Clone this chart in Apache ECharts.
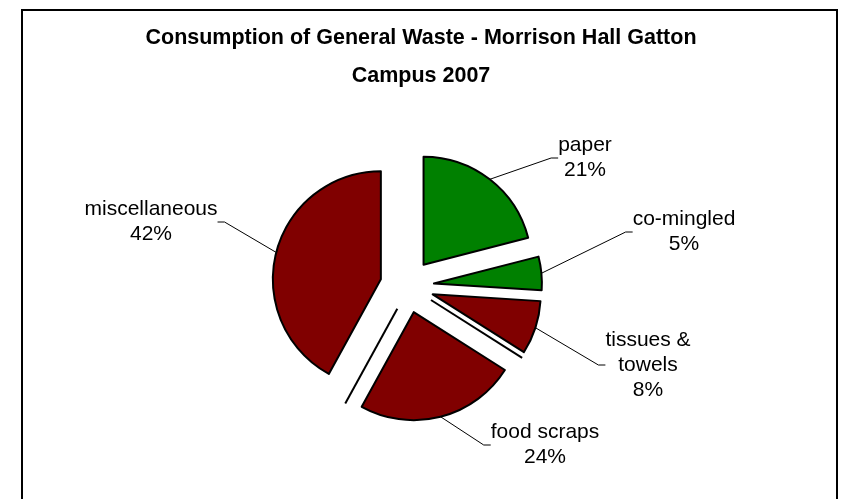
<!DOCTYPE html>
<html>
<head>
<meta charset="utf-8">
<script src="https://cdn.jsdelivr.net/npm/echarts@6/dist/echarts.min.js"></script>
<style>
  html, body { margin: 0; padding: 0; background: #fff; }
  #chart { width: 842px; height: 499px; }
</style>
</head>
<body>
<div id="chart"></div>
<script>
// waste categories, clockwise from 12 o'clock
var categories = ['paper', 'co-mingled', 'tissues &\ntowels', 'food scraps', 'miscellaneous'];
// share of general waste (%)
var shares = [21, 5, 8, 24, 42];

// layout
var pieCenter = [407, 286];
var pieRadius = 108;
var explode = 27;
// where each label sits (centre of the text block, px)
var labelSpots = [[585, 158], [684, 232], [648, 365], [545, 445], [151, 222]];
var sliceColors = ['#008000', '#008000', '#800000', '#800000', '#800000'];
// thin side edges left behind two of the pulled-out slices (slice, sideways shift, slide)
var ghostEdges = [[3, 16, 5], [2, 5.7, 1.6]];

var chart = echarts.init(document.getElementById('chart'));

var total = shares.reduce(function (a, b) { return a + b; }, 0);
var cum = 0;
var sliceCenters = [];
var sliceEnds = [];

// one series per slice so every slice can be pulled out along its own mid angle
var series = categories.map(function (name, i) {
    var mid = (cum + shares[i] / 2) / total * 2 * Math.PI;
    cum += shares[i];
    var cx = pieCenter[0] + explode * Math.sin(mid);
    var cy = pieCenter[1] - explode * Math.cos(mid);
    sliceCenters.push([cx, cy]);
    sliceEnds.push(cum / total * 2 * Math.PI);

    return {
        type: 'pie',
        center: [cx, cy],
        radius: pieRadius,
        startAngle: 90,
        clockwise: true,
        avoidLabelOverlap: false,
        percentPrecision: 0,
        emphasis: { disabled: true },
        label: {
            position: 'outside',
            formatter: '{b}\n{d}%',
            fontFamily: 'Liberation Sans, Arial, sans-serif',
            fontSize: 21,
            lineHeight: 25,
            color: '#000'
        },
        labelLine: {
            length: 15,
            length2: 7,
            lineStyle: { color: '#000', width: 1 }
        },
        labelLayout: function (params) {
            var spot = labelSpots[params.dataIndex];
            return { x: spot[0], y: spot[1], align: 'center', verticalAlign: 'middle' };
        },
        data: categories.map(function (n, j) {
            var on = j === i;
            return {
                name: n,
                value: shares[j],
                itemStyle: on
                    ? { color: sliceColors[j], borderColor: '#000', borderWidth: 2 }
                    : { color: 'rgba(0,0,0,0)', borderWidth: 0 },
                label: { show: on },
                labelLine: { show: on }
            };
        })
    };
});

var graphics = [{
    type: 'rect',
    shape: { x: 22, y: 10, width: 815, height: 520 },
    style: { fill: 'none', stroke: '#000', lineWidth: 2 },
    silent: true
}];

ghostEdges.forEach(function (g) {
    var c = sliceCenters[g[0]];
    var a = sliceEnds[g[0]];
    var dir = [Math.sin(a), -Math.cos(a)];
    var side = [Math.cos(a), Math.sin(a)];
    var x1 = c[0] + side[0] * g[1] + dir[0] * g[2];
    var y1 = c[1] + side[1] * g[1] + dir[1] * g[2];
    graphics.push({
        type: 'line',
        shape: { x1: x1, y1: y1, x2: x1 + dir[0] * pieRadius, y2: y1 + dir[1] * pieRadius },
        style: { stroke: '#000', lineWidth: 2 },
        silent: true
    });
});

var option = {
    animation: false,
    title: {
        text: 'Consumption of General Waste - Morrison Hall Gatton\nCampus 2007',
        left: 'center',
        top: 14,
        textStyle: {
            fontFamily: 'Liberation Sans, Arial, sans-serif',
            fontSize: 21.5,
            fontWeight: 'bold',
            color: '#000',
            lineHeight: 38
        }
    },
    graphic: graphics,
    series: series
};

chart.setOption(option);
</script>
</body>
</html>
